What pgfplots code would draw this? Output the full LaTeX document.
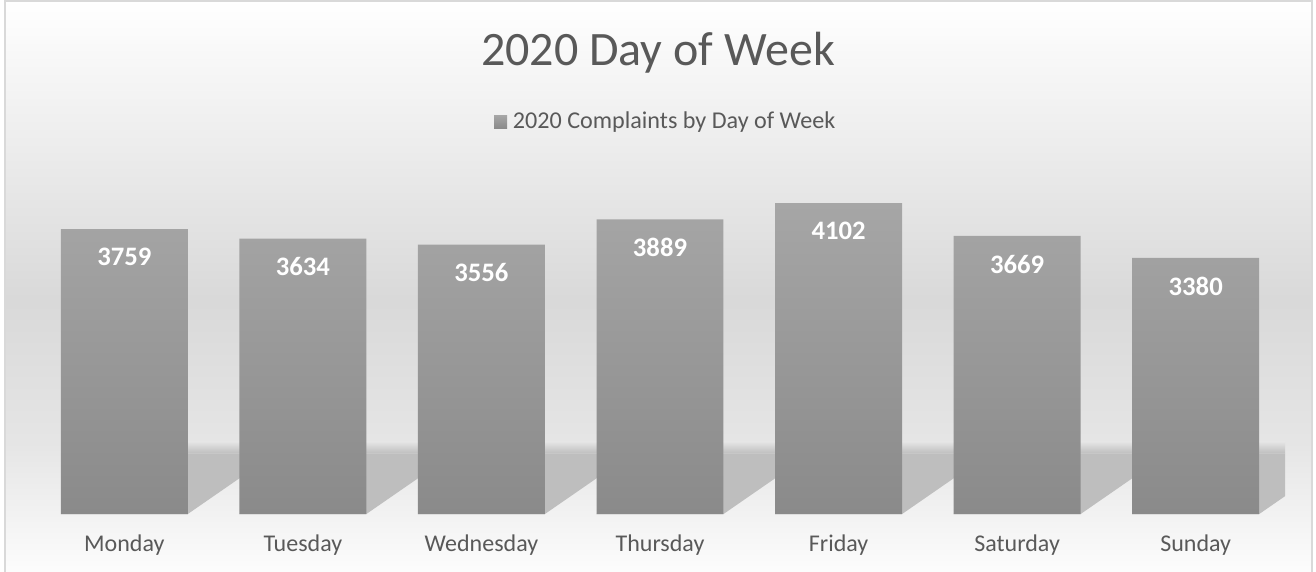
\documentclass[border=0pt]{standalone}
\usepackage{pgfplots}
\pgfplotsset{compat=1.18}
\usepackage{fontspec}
\setmainfont{Carlito}
\definecolor{txt}{HTML}{595959}
\definecolor{bord}{HTML}{D9D9D9}
\definecolor{shad}{HTML}{BEBEBE}
\definecolor{shadtop}{HTML}{E6E6E6}
\definecolor{bartop}{HTML}{A6A6A6}
\definecolor{barbot}{HTML}{8A8A8A}
\begin{document}
\begin{tikzpicture}
\useasboundingbox (0,0) rectangle (987pt,428.25pt);
% background
\shade[top color=white, bottom color=white!85!black] (3.75pt,203.25pt) rectangle (984pt,428.25pt);
\shade[top color=white!85!black, bottom color=white!90!black] (3.75pt,94.5pt) rectangle (984pt,203.25pt);
\shade[top color=white!90!black, bottom color=white!99!black] (3.75pt,0pt) rectangle (984pt,94.5pt);
\draw[bord, line width=1.5pt] (3.75pt,-2pt) -- (3.75pt,427.5pt) -- (984pt,427.5pt) -- (984pt,-2pt);
% title and legend
\node[text=txt, font=\fontsize{36}{43}\selectfont] at (493.5pt,389pt) {2020 Day of Week};
\shade[top color=bartop, bottom color=barbot] (370.5pt,332pt) rectangle (380.25pt,341.75pt);
\node[text=txt, anchor=west, inner sep=0pt, font=\fontsize{18.1}{22}\selectfont] at (384.5pt,336.75pt) {2020 Complaints by Day of Week};
\begin{axis}[
  at={(26.25pt,42.75pt)}, anchor=south west,
  scale only axis, width=937.5pt, height=255.75pt,
  xmin=-0.5, xmax=6.5, ymin=0, ymax=4500,
  hide y axis,
  axis x line*=bottom,
  x axis line style={draw=none},
  major tick length=0pt,
  xtick={0,1,2,3,4,5,6},
  xticklabels={Monday,Tuesday,Wednesday,Thursday,Friday,Saturday,Sunday},
  xticklabel style={text=txt, font=\fontsize{18}{22}\selectfont, anchor=center, yshift=-23.25pt},
  /pgf/number format/.cd, 1000 sep={}, assume math mode=true, /pgfplots/.cd,
  clip=true,
]
% floor shadows (decoration)
\addplot[draw=none, fill=shad, forget plot] coordinates {(-0.3557,0) (0.3557,0) (0.8465,800) (0.1351,800)};
\addplot[draw=none, fill=shad, forget plot] coordinates {(0.6443,0) (1.3557,0) (1.8465,800) (1.1351,800)};
\addplot[draw=none, fill=shad, forget plot] coordinates {(1.6443,0) (2.3557,0) (2.8465,800) (2.1351,800)};
\addplot[draw=none, fill=shad, forget plot] coordinates {(2.6443,0) (3.3557,0) (3.8465,800) (3.1351,800)};
\addplot[draw=none, fill=shad, forget plot] coordinates {(3.6443,0) (4.3557,0) (4.8465,800) (4.1351,800)};
\addplot[draw=none, fill=shad, forget plot] coordinates {(4.6443,0) (5.3557,0) (5.8465,800) (5.1351,800)};
\addplot[draw=none, fill=shad, forget plot] coordinates {(5.6443,0) (6.3557,0) (6.8465,800) (6.1351,800)};
\addplot[draw=none, top color=shadtop, bottom color=shad, forget plot] coordinates {(0.1351,800) (0.8465,800) (0.9449,960) (0.2335,960)};
\addplot[draw=none, top color=shadtop, bottom color=shad, forget plot] coordinates {(1.1351,800) (1.8465,800) (1.9449,960) (1.2335,960)};
\addplot[draw=none, top color=shadtop, bottom color=shad, forget plot] coordinates {(2.1351,800) (2.8465,800) (2.9449,960) (2.2335,960)};
\addplot[draw=none, top color=shadtop, bottom color=shad, forget plot] coordinates {(3.1351,800) (3.8465,800) (3.9449,960) (3.2335,960)};
\addplot[draw=none, top color=shadtop, bottom color=shad, forget plot] coordinates {(4.1351,800) (4.8465,800) (4.9449,960) (4.2335,960)};
\addplot[draw=none, top color=shadtop, bottom color=shad, forget plot] coordinates {(5.1351,800) (5.8465,800) (5.9449,960) (5.2335,960)};
\addplot[draw=none, top color=shadtop, bottom color=shad, forget plot] coordinates {(6.1351,800) (6.8465,800) (6.9449,960) (6.2335,960)};
\addplot[ybar, bar width=0.711, draw=none, top color=bartop, bottom color=barbot,
  nodes near coords,
  every node near coord/.append style={text=white, font=\bfseries\fontsize{20}{24}\selectfont, anchor=north, inner sep=0pt, yshift=-14pt},
] coordinates {(0,3759) (1,3634) (2,3556) (3,3889) (4,4102) (5,3669) (6,3380)};
\end{axis}
\end{tikzpicture}
\end{document}
